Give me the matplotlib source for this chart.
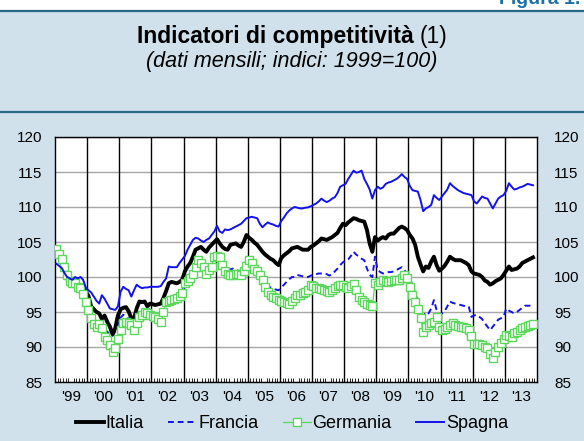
import numpy as np
import matplotlib.pyplot as plt
from matplotlib.lines import Line2D

plt.rcParams['font.family'] = ['Liberation Sans', 'DejaVu Sans']

# year labels on the x axis (monthly data, Jan 1999 - Nov 2013)
years = ["'99", "'00", "'01", "'02", "'03", "'04", "'05", "'06",
         "'07", "'08", "'09", "'10", "'11", "'12", "'13"]

nan = np.nan
italia = [
    nan, nan, nan, nan, nan, nan, nan, nan, nan, nan, 98.6, 97.9,
    97.3, 95.8, 95.4, 95.0, 94.8, 94.0, 94.5, 93.6, 92.9, 91.8, 92.7, 94.5,
    95.4, 95.6, 95.7, 95.1, 94.1, 94.1, 95.5, 96.5, 96.4, 96.5, 95.8, 96.2,
    96.1, 96.0, 96.1, 96.2, 97.0, 98.0, 99.1, 99.3, 99.2, 99.1, 99.3, 99.6,
    100.8, 101.5, 102.0, 102.9, 103.9, 104.1, 104.3, 103.9, 103.6, 104.2, 104.6, 105.0,
    105.4, 104.8, 104.3, 104.0, 103.9, 104.6, 104.7, 104.8, 104.5, 104.3, 105.0, 106.0,
    105.6, 105.3, 104.9, 104.6, 104.1, 103.6, 103.2, 102.9, 102.6, 102.4, 102.0, 101.7,
    102.7, 103.1, 103.4, 103.7, 104.1, 104.2, 104.3, 104.1, 103.9, 103.9, 103.9, 104.3,
    104.5, 104.8, 105.1, 105.5, 105.4, 105.3, 105.5, 105.7, 106.0, 106.3, 107.0, 107.6,
    107.4, 107.8, 108.1, 108.4, 108.3, 108.1, 108.0, 107.9, 106.7, 104.8, 103.6, 105.7,
    105.2, 105.5, 105.7, 105.5, 106.0, 106.2, 106.2, 106.6, 107.0, 107.2, 107.0, 106.7,
    106.0, 105.5, 104.6, 102.9, 101.8, 100.8, 101.5, 101.3, 102.2, 102.9, 101.7, 100.9,
    101.2, 101.6, 102.2, 102.9, 102.6, 102.4, 102.4, 102.4, 102.2, 102.0, 101.7, 100.8,
    100.5, 100.4, 100.3, 100.0, 99.5, 99.3, 98.9, 99.1, 99.4, 99.6, 99.8, 100.3,
    100.9, 101.5, 101.0, 101.1, 101.2, 101.5, 102.0, 102.2, 102.4, 102.6, 102.8,
]

francia = [
    104.0, 103.2, 102.5, 101.4, 100.3, 99.5, 99.1, 99.0, 98.6, 98.4, 97.6, 96.6,
    95.6, 94.6, 94.0, 93.6, 93.5, 93.2, 92.6, 92.2, 91.8, 91.6, 92.2, 93.2,
    94.2, 94.6, 94.4, 94.0, 93.5, 93.3, 94.2, 94.8, 95.0, 95.2, 94.9, 94.7,
    94.6, 94.6, 94.5, 94.3, 94.8, 96.0, 96.5, 96.7, 96.9, 97.3, 97.7, 98.2,
    98.6, 99.3, 100.0, 100.1, 100.1, 100.5, 101.2, 101.5, 101.5, 101.5, 102.3, 103.0,
    103.4, 102.5, 101.5, 101.3, 101.1, 101.1, 101.2, 101.0, 100.9, 100.8, 101.5, 102.4,
    101.8, 101.2, 101.0, 100.5, 99.7, 99.4, 99.1, 98.8, 98.5, 98.3, 98.2, 98.1,
    98.5, 98.9, 99.3, 99.7, 100.0, 100.0, 100.3, 100.2, 100.1, 100.0, 100.0, 100.2,
    100.3, 100.4, 100.5, 100.5, 100.5, 100.4, 100.2, 100.4, 100.8, 101.2, 101.7, 102.1,
    102.3, 102.5, 103.0, 103.6, 103.2, 102.9, 102.6, 102.4, 101.2, 100.3, 100.0, 102.9,
    101.0, 100.7, 100.5, 100.6, 100.7, 100.7, 100.8, 101.0, 101.2, 101.4, 101.0, 100.4,
    99.8, 98.8, 97.7, 96.6, 95.5, 94.3, 95.0, 94.8, 95.5, 96.7, 95.3, 94.6,
    94.8, 95.1, 95.8, 96.5, 96.3, 96.2, 96.1, 96.0, 95.9, 95.8, 95.8, 94.3,
    94.5, 94.6, 94.3, 94.0, 93.4, 92.9, 92.4, 92.9, 93.4, 93.9, 94.1, 94.3,
    95.5, 95.2, 95.0, 94.8, 95.0, 95.3, 95.6, 95.9, 95.9, 95.9, 95.8,
]

germania = [
    104.0, 103.3, 102.6, 101.5, 100.3, 99.5, 99.1, 99.1, 98.6, 98.4, 97.6, 96.5,
    95.3, 94.1, 93.3, 92.9, 93.3, 92.7, 91.5, 91.0, 90.3, 89.3, 89.8, 91.2,
    92.5, 93.4, 93.6, 93.5, 93.1, 92.4, 93.4, 94.3, 94.6, 95.0, 94.8, 94.6,
    94.4, 94.3, 94.0, 93.6, 95.0, 96.5, 96.6, 96.7, 96.8, 97.0, 97.3, 97.7,
    99.1, 99.5, 99.8, 100.5, 101.5, 102.4, 102.0, 101.5, 100.5, 101.0, 101.5, 102.9,
    103.0, 102.9, 101.7, 100.8, 100.5, 100.3, 100.3, 100.5, 100.4, 100.3, 100.8, 101.6,
    102.4, 102.0, 101.2, 100.8, 100.3, 99.6, 98.6, 97.9, 97.4, 97.1, 97.0, 96.7,
    96.6, 96.5, 96.3, 96.2, 96.6, 97.0, 97.4, 97.5, 97.7, 97.9, 98.1, 98.9,
    98.7, 98.5, 98.4, 98.3, 98.1, 98.0, 97.9, 98.1, 98.4, 98.7, 98.9, 98.8,
    98.6, 98.4, 98.7, 99.0, 98.1, 97.2, 96.7, 96.4, 96.2, 96.0, 95.8, 99.1,
    98.9, 99.3, 99.6, 99.4, 99.3, 99.5, 99.6, 99.6, 99.6, 99.8, 100.3, 99.8,
    98.6, 97.4, 96.5, 95.5, 94.1, 92.2, 92.8, 93.2, 93.4, 93.6, 94.3, 92.9,
    92.4, 92.6, 92.9, 93.2, 93.4, 93.1, 93.0, 92.9, 92.8, 92.7, 92.4, 91.6,
    90.4, 90.5, 90.4, 90.3, 90.0, 89.8, 89.0, 88.4, 89.3, 90.0, 90.6, 91.2,
    91.7, 91.6, 91.5, 92.0, 92.2, 92.4, 92.7, 92.9, 93.0, 93.2, 93.3,
]

spagna = [
    101.9, 101.6, 101.3, 100.6, 100.0, 99.8, 99.6, 100.0, 99.8, 100.0, 99.6, 98.5,
    98.1, 97.8, 97.2, 96.6, 96.2, 97.4, 96.9, 96.2, 95.5, 95.4, 95.3, 95.8,
    97.9, 98.6, 98.3, 98.1, 97.2, 98.1, 98.9, 98.6, 98.4, 98.5, 98.5, 98.6,
    98.6, 98.6, 98.6, 98.7, 99.3, 99.8, 101.5, 101.4, 101.4, 101.4, 102.0, 102.5,
    103.0, 103.9, 104.6, 105.3, 105.6, 105.5, 105.2, 105.0, 105.3, 105.5, 106.0, 106.5,
    107.3, 106.5, 106.3, 106.8, 106.7, 106.8, 107.0, 107.2, 107.4, 107.6, 108.0, 108.4,
    108.5, 108.6, 108.5, 108.4, 107.6, 107.1, 107.5, 107.8, 107.6, 107.5, 107.3, 107.2,
    108.0, 108.5, 109.1, 109.5, 109.8, 110.0, 109.9, 109.8, 109.8, 109.9, 109.95, 110.1,
    110.3, 110.5, 110.8, 111.2, 110.9, 110.7, 110.9, 111.2, 111.4, 112.0, 112.9, 113.1,
    113.3, 114.0, 114.6, 115.2, 114.9, 115.0, 115.2, 114.0, 113.3, 112.5, 111.2, 112.4,
    112.9, 112.6, 112.8, 113.3, 113.5, 113.6, 113.8, 114.0, 114.3, 114.7, 114.3, 114.0,
    113.0, 112.4, 112.3, 112.2, 111.0, 109.4, 109.8, 110.0, 110.3, 111.7, 111.3, 111.0,
    111.5, 112.0, 112.5, 113.4, 113.0, 112.7, 112.4, 112.2, 112.0, 111.9, 111.8, 111.7,
    110.8, 110.5, 111.0, 111.5, 111.3, 111.2, 110.5, 109.8, 110.5, 111.2, 111.5, 111.7,
    112.3, 113.4, 112.9, 112.5, 112.6, 112.8, 112.9, 113.1, 113.3, 113.2, 113.1,
]

bg = '#D0E1EB'
dark = '#2A6889'
blue = '#1212EE'
green = '#5CD65C'

fig = plt.figure(figsize=(5.84, 4.41), dpi=100, facecolor=bg)

# white strip on top with the figure number and the two rules
fig.add_artist(plt.Rectangle((0, 1 - 10 / 441), 1, 10 / 441, transform=fig.transFigure,
                             facecolor='white', edgecolor='none'))
fig.text(499 / 584, 1 - 4.5 / 441, 'Figura 1.', color='#1C6FA8', fontsize=14,
         fontweight='bold', ha='left', va='baseline')
for yy in (10.5, 112):
    fig.add_artist(Line2D([0, 1], [1 - yy / 441] * 2, transform=fig.transFigure,
                          color=dark, lw=1.6))

# title: bold part + normal "(1)", centred together
t1 = fig.text(0, 1 - 36 / 441, 'Indicatori di competitività ', fontsize=16.5,
              fontweight='bold', ha='left', va='center')
t2 = fig.text(0, 1 - 36 / 441, '(1)', fontsize=16.5, ha='left', va='center')
fig.text(0.5, 1 - 62 / 441, '(dati mensili; indici: 1999=100)', fontsize=15.5,
         style='italic', ha='center', va='center')
r = fig.canvas.get_renderer()
w1 = t1.get_window_extent(r).width
w2 = t2.get_window_extent(r).width
x0 = (584 - w1 - w2) / 2 / 584
t1.set_x(x0)
t2.set_x(x0 + w1 / 584)

ax = fig.add_axes([55 / 584, 1 - 382 / 441, 482 / 584, 245 / 441])
ax.set_facecolor('white')

x_it = np.arange(len(italia)) + 0.5
x_fr = np.arange(len(francia)) + 0.5
x_ge = np.arange(len(germania)) + 0.5
x_sp = np.arange(len(spagna)) + 0.5

ax.plot(x_fr, francia, color=blue, lw=1.4, ls=(0, (3, 2)), zorder=3, label='Francia')
ax.plot(x_it, italia, color='black', lw=2.8, zorder=4, label='Italia')
ax.plot(x_ge, germania, color=green, lw=0.9, marker='s', markersize=5.5,
        markerfacecolor='white', markeredgecolor=green, markeredgewidth=1.0,
        zorder=5, label='Germania')
ax.plot(x_sp, spagna, color=blue, lw=1.4, zorder=6, label='Spagna')

ax.set_xlim(0, 180)
ax.set_ylim(85, 120)
yt = [85, 90, 95, 100, 105, 110, 115, 120]
ax.set_yticks(yt)
for v in yt:
    ax.axhline(v, color='#A8A8A8', lw=1.0, zorder=1)
for k in range(1, 15):
    ax.axvline(12 * k, color='black', lw=1.0, zorder=2)

ax.set_xticks(np.arange(15) * 12 + 6)
ax.set_xticklabels(years)
ax.set_xticks(np.arange(0, 181), minor=True)
ax.tick_params(axis='x', which='major', length=0, labelsize=11, pad=6)
ax.tick_params(axis='x', which='minor', direction='in', length=3, width=0.6)
ax.tick_params(axis='y', length=0, labelsize=11, pad=9)
for s in ax.spines.values():
    s.set_linewidth(1.0)

ax2 = ax.twinx()
ax2.set_ylim(85, 120)
ax2.set_yticks(yt)
ax2.tick_params(axis='y', length=0, labelsize=11, pad=12.5)
for s in ax2.spines.values():
    s.set_visible(False)

order = ['Italia', 'Francia', 'Germania', 'Spagna']
hl = {l: h for h, l in zip(*ax.get_legend_handles_labels())}
fig.legend([hl[o] for o in order], order, loc='center', ncol=4,
           bbox_to_anchor=(0.5, 1 - 424 / 441), frameon=False, fontsize=13,
           handlelength=1.55, handletextpad=0.1, columnspacing=1.35, numpoints=1)

fig.savefig('out.png', dpi=100, facecolor=bg)
